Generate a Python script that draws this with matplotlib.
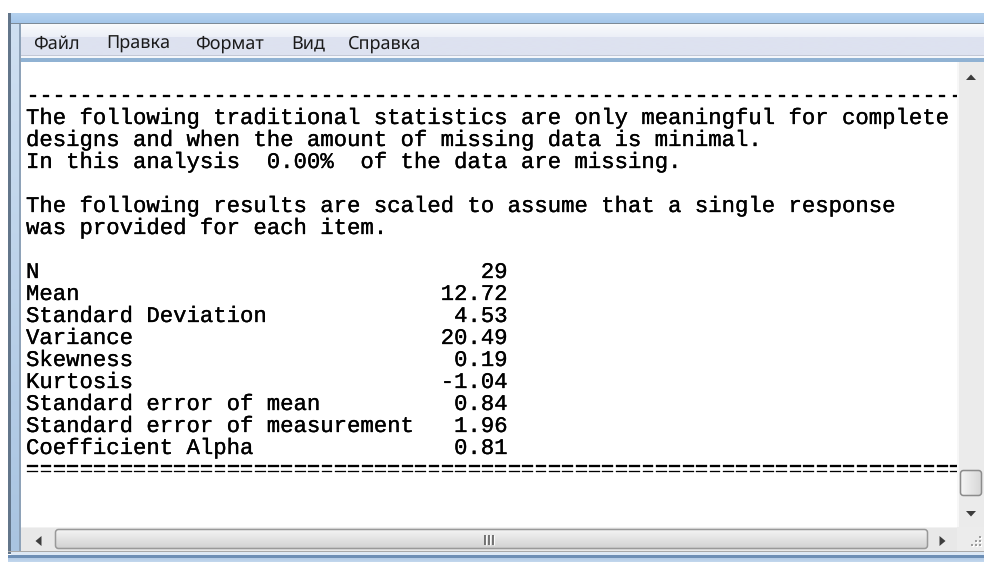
import numpy as np
import matplotlib
matplotlib.use("Agg")
import matplotlib.pyplot as plt
from matplotlib.patches import Rectangle, FancyBboxPatch, Polygon
from matplotlib.colors import to_rgb
import matplotlib.patheffects as pe

plt.rcParams["text.hinting"] = "no_hinting"

# ---------------- data ----------------
menu_items = ["Файл", "Правка", "Формат", "Вид", "Справка"]
menu_x = [33, 106, 195, 291, 348]

intro_lines = [
    "The following traditional statistics are only meaningful for complete",
    "designs and when the amount of missing data is minimal.",
    "In this analysis  0.00%  of the data are missing.",
    "",
    "The following results are scaled to assume that a single response",
    "was provided for each item.",
    "",
]
stat_labels = ["N", "Mean", "Standard Deviation", "Variance", "Skewness",
               "Kurtosis", "Standard error of mean",
               "Standard error of measurement", "Coefficient Alpha"]
stat_values = [29, 12.72, 4.53, 20.49, 0.19, -1.04, 0.84, 1.96, 0.81]

# ---------------- figure ----------------
W, H = 984, 562
fig = plt.figure(figsize=(W / 100, H / 100), dpi=100)
bg = fig.add_axes([0, 0, 1, 1])
bg.set_xlim(0, W)
bg.set_ylim(H, 0)
bg.axis("off")


def grad(ax, x0, x1, y0, y1, c0, c1, horizontal=False, clip=None, z=1):
    c0 = np.array(to_rgb(c0)); c1 = np.array(to_rgb(c1))
    t = np.linspace(0, 1, 64)
    cols = c0[None, :] * (1 - t[:, None]) + c1[None, :] * t[:, None]
    img = cols[None, :, :] if horizontal else cols[:, None, :]
    im = ax.imshow(img, extent=(x0, x1, y1, y0), aspect="auto",
                   interpolation="bilinear", zorder=z)
    if clip is not None:
        im.set_clip_path(clip)
    return im


def rect(ax, x0, y0, x1, y1, color, z=2, **kw):
    ax.add_patch(Rectangle((x0, y0), x1 - x0, y1 - y0, facecolor=color,
                           edgecolor="none", zorder=z, **kw))

# window frame: top strip
grad(bg, 8, W, 13, 23, "#b6d2ee", "#a4c6ea")
rect(bg, 8, 22.5, W, 24, "#7d8a97")
# left frame
rect(bg, 8, 13, 10.5, 554, "#62758a")
grad(bg, 10.5, 19, 24, 554, "#cfe0f2", "#a9c4e1", z=1.5)
rect(bg, 19, 24, 21, 554, "#8ea2b8")
# menu bar
grad(bg, 21, W, 24, 37, "#fafbfd", "#eceff7")
grad(bg, 21, W, 37, 55, "#dde2f0", "#dee2f0")
rect(bg, 21, 54.5, W, 56, "#c3c8d6")
rect(bg, 21, 56, W, 58, "#f5f7fb")
rect(bg, 21, 58, W, 61.5, "#90b2d3")
for name, x in zip(menu_items, menu_x):
    bg.text(x, 49, name, fontsize=13, family=["Noto Sans", "DejaVu Sans"],
            color="#1b1b1b", va="baseline", ha="left", zorder=5)

# text area
rect(bg, 21, 61.5, 957, 527, "white")
# vertical scrollbar
rect(bg, 957, 61.5, W, 527, "#ebebeb")
rect(bg, 957, 61.5, 958.5, 527, "#f7f7f7", z=3)
bg.add_patch(Polygon([(966, 80), (976, 80), (971, 74.5)], closed=True,
                     facecolor="#3d3d3d", edgecolor="none", zorder=5))
bg.add_patch(Polygon([(966, 511), (976, 511), (971, 516.5)], closed=True,
                     facecolor="#3d3d3d", edgecolor="none", zorder=5))
vfill = FancyBboxPatch((960.5, 470.5), 21, 25, boxstyle="round,pad=0,rounding_size=3",
                       facecolor="none", edgecolor="none", zorder=4)
bg.add_patch(vfill)
grad(bg, 960.5, 981.5, 470.5, 495.5, "#f4f4f4", "#d6d6d6", horizontal=True,
     clip=vfill, z=5)
bg.add_patch(FancyBboxPatch((960.5, 470.5), 21, 25, boxstyle="round,pad=0,rounding_size=3",
                            facecolor="none", edgecolor="#8c8c8c", linewidth=1.1, zorder=6))

# horizontal scrollbar
rect(bg, 21, 527, 957, 551, "#e8e8e8")
rect(bg, 21, 527, 957, 528, "#f2f2f2", z=3)
bg.add_patch(Polygon([(41.5, 536), (41.5, 546), (35.5, 541)], closed=True,
                     facecolor="#3d3d3d", edgecolor="none", zorder=5))
bg.add_patch(Polygon([(939.5, 536), (939.5, 546), (945.5, 541)], closed=True,
                     facecolor="#3d3d3d", edgecolor="none", zorder=5))
hfill = FancyBboxPatch((55.5, 529.5), 872, 19, boxstyle="round,pad=0,rounding_size=3",
                       facecolor="none", edgecolor="none", zorder=4)
bg.add_patch(hfill)
grad(bg, 55.5, 927.5, 529.5, 548.5, "#f5f5f5", "#d2d2d2", clip=hfill, z=5)
bg.add_patch(FancyBboxPatch((55.5, 529.5), 872, 19, boxstyle="round,pad=0,rounding_size=3",
                            facecolor="none", edgecolor="#999999", linewidth=1.1, zorder=6))
for gx in (485, 489, 493):
    bg.plot([gx, gx], [534.5, 544.5], color="#6f6f6f", lw=1.4, zorder=7,
            solid_capstyle="butt")
    bg.plot([gx + 1.2, gx + 1.2], [534.5, 544.5], color="#fbfbfb", lw=0.8, zorder=7,
            solid_capstyle="butt")
# corner box
rect(bg, 957, 527, W, 551, "#ececec")
for (dx, dy) in [(979, 536), (979, 540), (975, 540), (979, 544), (975, 544), (971, 544)]:
    rect(bg, dx, dy, dx + 2, dy + 2, "#9c9c9c", z=6)
    rect(bg, dx + 1, dy + 1, dx + 2.5, dy + 2.5, "#ffffff", z=5)

# bottom frame
rect(bg, 8, 550.5, W, 551.5, "#a9a9a9", z=3)
rect(bg, 10.5, 551.5, W, 555, "#dce8f5", z=3)
rect(bg, 8, 555, W, 558, "#6d8fb6", z=3)
grad(bg, 8, W, 558, 562, "#b2cbe6", "#c4d8ee", z=3)

bg.set_xlim(0, W)
bg.set_ylim(H, 0)

# ---------------- text content ----------------
ta = fig.add_axes([21 / W, (H - 527) / H, (957 - 21) / W, (527 - 61.5) / H])
ta.set_xlim(21, 957)
ta.set_ylim(527, 61.5)
ta.axis("off")

lines = ["-" * 70] + intro_lines
for lab, val in zip(stat_labels, stat_values):
    vs = f"{val:d}" if isinstance(val, int) else f"{val:.2f}"
    lines.append(f"{lab:<29}{vs:>7}")
lines.append("=" * 70)

base0 = 102
step = 22
for i, ln in enumerate(lines):
    if not ln:
        continue
    ta.text(26, base0 + i * step, ln, family=["Liberation Mono", "DejaVu Sans Mono"],
            fontsize=16.05, color="black", va="baseline", ha="left", clip_on=True,
            path_effects=[pe.withStroke(linewidth=0.22, foreground="black")])

fig.savefig("out.png", dpi=100)
